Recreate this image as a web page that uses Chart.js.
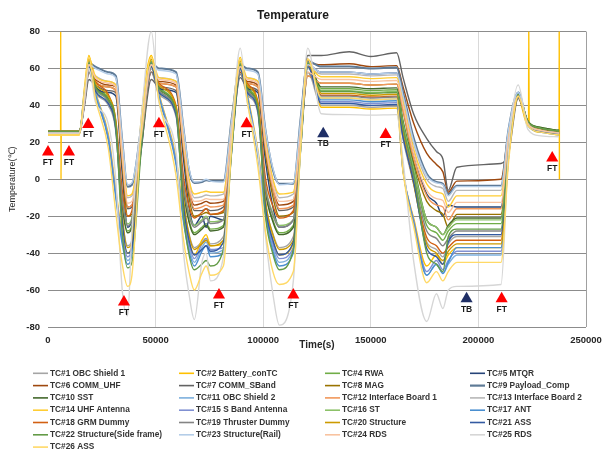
<!DOCTYPE html>
<html><head><meta charset="utf-8">
<script src="https://cdn.jsdelivr.net/npm/chart.js@4.4.0/dist/chart.umd.min.js"></script>
<style>html,body{margin:0;padding:0;background:#fff;}#wrap{width:604px;height:457px;}</style>
</head><body><div id="wrap"><canvas id="c" width="604" height="457"></canvas></div>
<script>
const times = [0,14500,17000,19000,22000,28000,31500,34500,37000,39000,43500,48000,51500,59500,63000,65500,68000,71500,73500,75500,81500,85500,89300,92500,97500,101000,104500,107500,114000,117500,120700,127000,140000,150000,162000,165000,170000,176000,180500,183500,186000,190000,210500,214000,218500,223000,229000,237500];

const seriesNames = ["TC#1 OBC Shield 1","TC#2 Battery_conTC","TC#4 RWA","TC#5 MTQR","TC#6 COMM_UHF","TC#7 COMM_SBand","TC#8 MAG","TC#9 Payload_Comp","TC#10 SST","TC#11 OBC Shield 2","TC#12 Interface Board 1","TC#13 Interface Board 2","TC#14 UHF Antenna","TC#15 S Band Antenna","TC#16 ST","TC#17 ANT","TC#18 GRM Dummy","TC#19 Thruster Dummy","TC#20 Structure","TC#21 ASS","TC#22 Structure(Side frame)","TC#23 Structure(Rail)","TC#24 RDS","TC#25 RDS","TC#26 ASS"];
const seriesColors = ["#a5a5a5","#ffc000","#70ad47","#264478","#9e480e","#636363","#997300","#5e7a96","#43682b","#7cafdd","#f1975a","#b7b7b7","#ffcd33","#8090d2","#8cc168","#4a8fd0","#d26012","#848484","#cc9a00","#335aa1","#639b47","#b4cde8","#f8c3a0","#d6d6d6","#ffd966"];

const tc1  = [25,25,41.5,58,47,40,26,-20,-36,-33,20,58,46,34,-12,-29.5,-37,-34,-32,-35,-31,17.5,57,46,36,-12,-29.5,-37,-31,18,58,40,40,39,39.5,21.5,-3,-34,-38,-42,-35,-31,-31,15,46,30,26.5,25];
const tc2  = [24,24,50,67,48,24.5,-5.5,-30,-40,-34,35,67,47,11.5,-18.5,-33,-41,-33,-30,-36,-35,26,66,47,16,-14,-33,-41,-35,25,65,39,39,38,38.5,4,-21.5,-47,-41,-46,-41,-37,-37,11.5,44,29,25.5,24];
const tc4  = [26,26,45,64,51,44,30,-13,-28,-25,27,64,50,38,-5,-22,-29,-26,-24,-27,-25,23.5,63,50,40,-5,-22,-29,-25,24,64,49,49,48,48.5,30,5,-25,-29,-33,-28,-24,-24,18,46,31.5,28,26.5];
const tc5  = [25,25,43,61,50,47,45,3,-26,-22,17.5,61,49,47,10.5,-15,-25,-20,-26,-20,-22,23,60,49,47,10.5,-15,-26,-22,24,62,58,58,57,57.5,42.5,14,-8,-13,-20,-14,-15,-15,21,45,30,26.5,25];
const tc6  = [26,26,42,58,54,51,50,11,-15,-14,21.5,58,53,51,18,-5,-14,-13,-12,-13,-12,26.5,58,53,51,18,-5,-14,-12,29,63,62,62.5,61,61.5,50,30,14,8,4,-7,-1,0,26,44,31,27.5,26];
const tc7  = [26,26,40,54,51,48,47,10,-16,-15,19,54,50,48,16,-6,-17,-17,-16,-17,-15,23,55,50,48,16,-6,-17,-15,31,67,67,69,66.5,68.5,55,35,22,15,11,-6,6.5,8.5,14,44,31,27,26];
const tc8  = [25,25,43,62,53,50,48,8,-20,-19,21,62,52,50,15,-9.5,-20,-19,-18,-19,-18,25.5,61,52,50,15,-9.5,-20,-18,22.5,56,52,52,51,51.5,37,9,-12,-17,-19,-26,-19,-19,19.5,45,30.5,27,25.5];
const tc9  = [25,25,44,63,61,58,56,21,-4,-3,30,63,60,58,27,5,-2,-1.5,-0.5,-1,-1,34,62,60,58,27,5,-2.5,-2.5,34,64,61,61,60,60.5,47,22,3,-1.5,-2.5,-8,-3.5,-3.5,27,47,30,26.5,25];
const tc10 = [25,25,43.5,62,50,43,29,-14,-29,-26,25.5,62,49,37,-6,-23,-30,-27,-25,-28,-26,22,61,49,39,-6,-23,-30,-26,23,63,50,50,49,49.5,31.5,7,-22,-26,-30,-25,-21,-21,19,46,31.5,28,26.5];
const tc11 = [25,25,47,62,47,23,-8.5,-33,-44,-38,30,62,46,9.5,-22,-37,-45,-37,-34,-40,-38,22,61,46,14,-17,-37,-45,-38,22.5,63,44,44,43,43.5,5,-23.5,-52,-46,-51,-46,-41,-41,12,47,29.5,26,24.5];
const tc12 = [26,26,43,60,53,50,48,11,-15,-14,22.5,60,52,50,17.5,-5,-16,-15,-14,-15,-14,26,59,52,50,17.5,-5,-16,-14,24.5,56,52,52,51,51.5,37.5,11,-9,-14,-15,-22,-16,-16,20.5,45,30.5,27,25.5];
const tc13 = [25,25,42,60,56,53,51,15,-10,-9,25,60,55,53,21.5,-0.5,-10,-9.5,-8.5,-9,-8,29,59,55,53,21.5,-0.5,-10,-8,29,60,57,57,56,56.5,44,19,0,-4,-5,-12,-6,-6,25,45,30,26.5,25];
const tc14 = [25,25,45,66,56,53,51,16,-9,-8,28.5,66,55,53,22,0,-8,-7,-6.5,-7,-7,32.5,65,55,53,22,0,-8,-7,30,61,55.5,55.5,54.5,55,42,16,-2.5,-7,-8,-15,-9,-9,24,46,30,26.5,25];
const tc15 = [25,25,47,62,46,22.5,-7.5,-31.5,-42,-36,31,62,45,9.5,-20.5,-35,-43,-35,-32,-38,-37,22.5,61,45,14,-16,-35,-43,-37,23,63,42,42,41,41.5,4.5,-22.5,-50,-44,-49,-44,-39,-39,12,46,29.5,26,24.5];
const tc16 = [26,26,43.5,61,49,42,28,-10,-24,-21,27,61,48,36,-3,-18.5,-25,-22,-20,-23,-22,23,60,48,38,-3,-18.5,-25,-22,23.5,61,48,48,47,47.5,30,5.5,-22,-26,-30,-26,-22,-22,18,45,31,27.5,26];
const tc17 = [25,25,48,63,46,21.5,-10,-35,-46,-40,30,63,45,8,-23.5,-39,-47,-39,-36,-42,-40,21,62,45,12.5,-19,-39,-47,-40,22,63,43,43,42,42.5,4.5,-24,-52,-46,-51,-45,-37,-37,13.5,47,29,25.5,24];
const tc18 = [26,26,44,62,53,46,32,-6,-20,-17,29,62,52,40,1,-14.5,-21,-18,-16,-19,-17,26,61,52,42,1,-14.5,-21,-17,26.5,62,45.5,45.5,44.5,45,25,-2,-31.5,-36,-40,-37,-33,-33,14,45,30.5,27,25.5];
const tc19 = [25,25,41.5,58,49,42,28,-11,-25,-22,25,58,48,36,-4,-19.5,-26,-23,-21,-24,-22,21.5,57,48,38,-4,-19.5,-26,-22,22,58,45,45,44,44.5,26,1,-28,-32,-36,-32,-28,-28,15,44,30,26.5,25];
const tc20 = [25,25,45,65,52,45,31,-20,-37,-34,24,65,51,39,-11,-30,-38,-35,-33,-36,-33,20,64,51,41,-11,-30,-38,-33,21,65,46.5,46.5,45.5,46,25.5,-3,-35,-40,-44,-39,-35,-35,13,45,30,26.5,25];
const tc21 = [25,25,43,61,48,41,27,-23,-40,-37,20.5,61,47,35,-14.5,-33,-41,-38,-36,-39,-34,17.5,60,47,37,-14.5,-33,-41,-34,18,61,41,41,40,40.5,22.5,-2,-37.5,-42,-46,-34,-30,-30,15.5,46,29.5,26,24.5];
const tc22 = [26,26,44.5,63,50,43,29,-29,-48,-45,18.5,63,49,37,-19.5,-40.5,-49,-46,-44,-47,-38,17,62,49,39,-19.5,-40.5,-49,-38,17.5,63,47.5,47.5,46.5,47,28,2.5,-40,-46,-50,-31,-27,-27,17,46,31,27.5,26];
const tc23 = [25,25,43,62,60,57,55,21,-3,-2,30,62,59,57,27,6,-1.5,-1,0,-1,-1.5,33,61,59,57,27,6,-3,-2,33,62,58,58,57,57.5,45,20,2,-2,-3,-9,-4,-4,27,47,30,26.5,25];
const tc24 = [25,25,43,62,55,52,50,13,-13,-12,24.5,62,54,52,19.5,-3,-12,-11.5,-10.5,-11,-11,28.5,61,54,52,19.5,-3,-12,-11,26.5,58,54,54,53,53.5,40,14,-6,-10.5,-11.5,-18,-12.5,-12.5,22,45,30,26.5,25];
const tc25 = [25,25,45,60,42,30,0,-60,-74,-28,35,80,42,15,-40,-62,-76,-45,-40,-55,-42,25,71,42,15,-30,-62,-79,-55,20,71,35.5,35,34.7,35,10,-45,-77,-62,-70,-60,-58,-57,15,51,27,23.5,23];
const tc26 = [24,24,49,66,44,17,-18,-46,-58,-52,29,66,43,2,-33,-50,-60,-51,-47,-52,-47,20,65,43,7,-28,-50,-57,-50,19,65,44,44,43,43.5,3.5,-26,-56,-50,-55,-50,-45,-45,9,45,29,25.5,24];

// short spikes of the TC#2 trace (time, value)
const tc2SpikeTimes  = [5850,5900,6050,6150,223300,223400,223600,237550,237650];
const tc2SpikeValues = [24,80,0,24,29,80,29,80,0];

const ftTimes  = [0,9750,18700,35300,51550,79450,92300,114000,156900,210800,234300];
const ftValues = [14.8,14.8,29.6,-66.5,30.1,-62.7,30.1,-62.7,24.2,-64.7,11.5];
const tbTimes  = [127900,194500];
const tbValues = [24.7,-64.7];

const xTicks = [0,50000,100000,150000,200000,250000];
const yTicks = [-80,-60,-40,-20,0,20,40,60,80];

const seriesValues = [tc1,tc2,tc4,tc5,tc6,tc7,tc8,tc9,tc10,tc11,tc12,tc13,tc14,tc15,tc16,tc17,tc18,tc19,tc20,tc21,tc22,tc23,tc24,tc25,tc26];

const FONT = '"Liberation Sans", Arial, sans-serif';

const datasets = seriesValues.map((vals, i) => {
  let pts = times.map((t, k) => ({x: t, y: vals[k]}));
  if (i === 1) {
    tc2SpikeTimes.forEach((t, k) => pts.push({x: t, y: tc2SpikeValues[k]}));
    pts.sort((a, b) => a.x - b.x);
  }
  return {
    label: seriesNames[i],
    data: pts,
    borderColor: seriesColors[i],
    backgroundColor: seriesColors[i],
    borderWidth: i === 7 ? 2 : 1.4,
    pointRadius: 0,
    fill: false,
    cubicInterpolationMode: 'monotone',
    order: 100 - i
  };
});

datasets.push({
  label: 'FT', type: 'scatter', markerText: 'FT',
  data: ftTimes.map((t, k) => ({x: t, y: ftValues[k]})),
  pointStyle: 'triangle', pointRadius: 7, pointBackgroundColor: '#ff0000', pointBorderColor: '#ff0000', pointBorderWidth: 0,
  showLine: false, clip: false, order: -2
});
datasets.push({
  label: 'TB', type: 'scatter', markerText: 'TB',
  data: tbTimes.map((t, k) => ({x: t, y: tbValues[k]})),
  pointStyle: 'triangle', pointRadius: 7, pointBackgroundColor: '#1f2f66', pointBorderColor: '#1f2f66', pointBorderWidth: 0,
  showLine: false, clip: false, order: -2
});

const markerLabels = {
  id: 'markerLabels',
  afterDatasetsDraw(chart) {
    const ctx = chart.ctx;
    ctx.save();
    ctx.font = 'bold 8.5px ' + FONT;
    ctx.fillStyle = '#1a1a1a';
    ctx.textAlign = 'center';
    ctx.textBaseline = 'middle';
    chart.data.datasets.forEach((ds, di) => {
      if (!ds.markerText) return;
      chart.getDatasetMeta(di).data.forEach(p => {
        ctx.fillText(ds.markerText, p.x, p.y + 10.5);
      });
    });
    ctx.restore();
  }
};

const gridLegend = {
  id: 'gridLegend',
  afterDraw(chart) {
    const ctx = chart.ctx;
    const colX = [33, 179, 325, 470];
    ctx.save();
    ctx.font = 'bold 8.3px ' + FONT;
    ctx.textBaseline = 'middle';
    ctx.textAlign = 'left';
    seriesNames.forEach((name, i) => {
      const row = Math.floor(i / 4), col = i % 4;
      const x = colX[col], y = 373.3 + row * 12.3;
      ctx.strokeStyle = seriesColors[i];
      ctx.lineWidth = i === 7 ? 2.2 : 1.6;
      ctx.beginPath(); ctx.moveTo(x, y); ctx.lineTo(x + 15, y); ctx.stroke();
      ctx.fillStyle = '#333333';
      ctx.fillText(name, x + 17, y);
    });
    ctx.restore();
  }
};

new Chart(document.getElementById('c'), {
  type: 'line',
  data: { datasets },
  plugins: [markerLabels, gridLegend],
  options: {
    responsive: false,
    animation: false,
    devicePixelRatio: 1,
    layout: { padding: { left: 0, right: 18, top: 0, bottom: 100 } },
    plugins: {
      legend: { display: false },
      tooltip: { enabled: false },
      title: {
        display: true, text: 'Temperature', color: '#1a1a1a',
        font: { family: FONT, size: 12, weight: 'bold', lineHeight: 1.2 },
        padding: { top: 8.8, bottom: 8.3 }
      }
    },
    scales: {
      x: {
        type: 'linear', min: 0, max: 250000,
        afterBuildTicks: s => { s.ticks = xTicks.map(v => ({value: v})); },
        afterFit: s => { s.height = 30; s.paddingRight = 4; s.paddingLeft = 0; },
        ticks: { autoSkip: false, maxRotation: 0, padding: 7.5, color: '#262626',
                 font: { family: FONT, size: 9.5, weight: 'bold' }, callback: v => String(v) },
        grid: { drawTicks: false, lineWidth: 1,
                color: c => (c.tick && c.tick.value === 250000) ? '#a0a0a0' : (c.tick && c.tick.value === 0 ? 'rgba(0,0,0,0)' : '#d9d9d9') },
        border: { display: false },
        title: { display: true, text: 'Time(s)', color: '#262626',
                 font: { family: FONT, size: 10, weight: 'bold', lineHeight: 1.2 }, padding: { top: 0, bottom: 6 } }
      },
      y: {
        min: -80, max: 80,
        afterBuildTicks: s => { s.ticks = yTicks.map(v => ({value: v})); },
        afterFit: s => { s.width = 48; },
        ticks: { padding: 8, color: '#262626', font: { family: FONT, size: 9.5, weight: 'bold' } },
        grid: { drawTicks: false, color: '#8c8c8c', lineWidth: 1 },
        border: { display: false },
        title: { display: true, text: 'Temperature(℃)', color: '#262626',
                 font: { family: FONT, size: 9, lineHeight: 1.2 }, padding: { top: 7.6, bottom: 0 } }
      }
    }
  }
});
</script>
</body></html>
